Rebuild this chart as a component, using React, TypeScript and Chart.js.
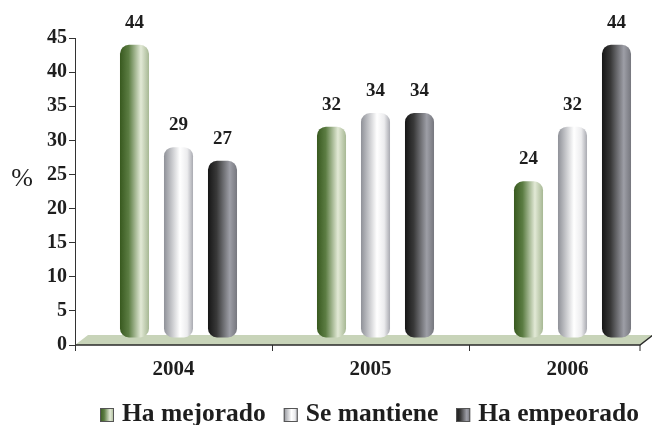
import { useEffect, useRef } from 'react';
import { Chart, registerables } from 'chart.js';

Chart.register(...registerables);

const categories = ['2004', '2005', '2006'];
const seriesNames = ['Ha mejorado', 'Se mantiene', 'Ha empeorado'];
const haMejorado = [44, 32, 24];
const seMantiene = [29, 34, 32];
const haEmpeorado = [27, 34, 44];
const yMin = 0;
const yMax = 45;
const yStep = 5;
const yTitle = '%';

const FONT = '"Liberation Serif", "Times New Roman", serif';

const gradients: [number, string][][] = [
  [[0, '#38591f'], [0.3, '#5c7d43'], [0.72, '#e2e9d6'], [1, '#a7b894']],
  [[0, '#8f9198'], [0.55, '#ffffff'], [0.8, '#ececee'], [1, '#a9aab1']],
  [[0, '#161616'], [0.3, '#393939'], [0.75, '#9d9ea6'], [1, '#76777e']],
];

const floorRight = 640;
const depthX = 13;
const depthY = 10;
const barShiftX = 5;
const barLiftY = 7;

function fillGrad(ctx: CanvasRenderingContext2D, x0: number, x1: number, stops: [number, string][]) {
  const g = ctx.createLinearGradient(x0, 0, x1, 0);
  stops.forEach(([o, c]) => g.addColorStop(o, c));
  return g;
}

const cylPlugin = {
  id: 'cylinders',
  beforeDatasetsDraw(chart: any) {
    const { ctx, chartArea, scales } = chart;
    const y0 = scales.y.getPixelForValue(0);
    const xL = chartArea.left;
    ctx.save();
    ctx.beginPath();
    ctx.moveTo(xL, y0);
    ctx.lineTo(floorRight, y0);
    ctx.lineTo(floorRight + depthX, y0 - depthY);
    ctx.lineTo(xL + depthX, y0 - depthY);
    ctx.closePath();
    ctx.fillStyle = '#c8d4b9';
    ctx.fill();
    ctx.strokeStyle = '#2a2a2a';
    ctx.lineWidth = 1.5;
    ctx.beginPath();
    ctx.moveTo(xL, y0);
    ctx.lineTo(floorRight, y0);
    ctx.lineTo(floorRight + depthX, y0 - depthY);
    ctx.stroke();
    ctx.lineWidth = 1;
    ctx.beginPath();
    ctx.moveTo(floorRight, y0);
    ctx.lineTo(floorRight, y0 + 6);
    ctx.stroke();
    ctx.restore();
  },
  afterDatasetsDraw(chart: any) {
    const { ctx } = chart;
    ctx.save();
    chart.data.datasets.forEach((ds: any, di: number) => {
      const meta = chart.getDatasetMeta(di);
      meta.data.forEach((el: any, i: number) => {
        const { x, y, base, width } = el.getProps(['x', 'y', 'base', 'width'], true);
        const cx = x + barShiftX;
        const left = cx - width / 2;
        const bottom = base - barLiftY;
        ctx.fillStyle = fillGrad(ctx, left, left + width, gradients[di]);
        ctx.beginPath();
        ctx.roundRect(left, y, width, bottom - y, 9);
        ctx.fill();
        ctx.fillStyle = '#1e1e1e';
        ctx.font = 'bold 19px ' + FONT;
        ctx.textAlign = 'center';
        ctx.textBaseline = 'middle';
        ctx.fillText(String(ds.data[i]), cx, y - 22);
      });
    });
    ctx.restore();
  },
  afterDraw(chart: any) {
    const { ctx, scales } = chart;
    ctx.save();
    ctx.fillStyle = '#1e1e1e';
    ctx.font = '26px ' + FONT;
    ctx.textAlign = 'center';
    ctx.textBaseline = 'middle';
    ctx.fillText(yTitle, 22, scales.y.getPixelForValue(25) + 5);
    ctx.font = 'bold 25.5px ' + FONT;
    ctx.textAlign = 'left';
    ctx.textBaseline = 'alphabetic';
    let lx = 100;
    const boxTop = 408;
    const box = 14;
    chart.data.datasets.forEach((ds: any, di: number) => {
      ctx.fillStyle = fillGrad(ctx, lx, lx + box, gradients[di]);
      ctx.fillRect(lx, boxTop, box, box);
      ctx.strokeStyle = '#555';
      ctx.lineWidth = 1;
      ctx.strokeRect(lx + 0.5, boxTop + 0.5, box - 1, box - 1);
      ctx.fillStyle = '#1e1e1e';
      ctx.fillText(ds.label, lx + box + 8, 421);
      lx += box + 8 + ctx.measureText(ds.label).width + 18;
    });
    ctx.restore();
  },
};

export default function App() {
  const ref = useRef<HTMLCanvasElement>(null);
  useEffect(() => {
    if (!ref.current) return;
    const series = [haMejorado, seMantiene, haEmpeorado];
    const chart = new Chart(ref.current, {
      type: 'bar',
      data: {
        labels: categories,
        datasets: series.map((d, i) => ({
          label: seriesNames[i],
          data: d,
          backgroundColor: 'rgba(0,0,0,0)',
          borderWidth: 0,
          barPercentage: 0.66,
          categoryPercentage: 0.67,
        })),
      },
      options: {
        animation: false,
        responsive: false,
        maintainAspectRatio: false,
        layout: { padding: { left: 0, right: 14, top: 38, bottom: 50 } },
        plugins: { legend: { display: false }, tooltip: { enabled: false } },
        scales: {
          x: {
            offset: true,
            afterFit: (s: any) => { s.height = 30; },
            grid: { display: true, drawOnChartArea: false, drawTicks: true, tickLength: 6, offset: true, color: '#333' },
            border: { display: false },
            ticks: { font: { family: FONT, size: 21, weight: 'bold' }, color: '#1e1e1e', padding: 6 },
          },
          y: {
            min: yMin,
            max: yMax,
            afterFit: (s: any) => { s.width = 75; },
            grid: { drawOnChartArea: false, drawTicks: true, tickLength: 6, color: '#333' },
            border: { display: true, color: '#333', width: 1 },
            ticks: { stepSize: yStep, font: { family: FONT, size: 20, weight: 'bold' }, color: '#1e1e1e', padding: 2 },
          },
        },
      },
      plugins: [cylPlugin],
    });
    return () => chart.destroy();
  }, []);
  return (
    <div style={{ position: 'fixed', left: 0, top: 0, width: 652, height: 425, overflow: 'hidden', background: '#fff' }}>
      <div style={{ width: 680, height: 425 }}>
        <canvas ref={ref} width={680} height={425} style={{ display: 'block' }} />
      </div>
    </div>
  );
}
